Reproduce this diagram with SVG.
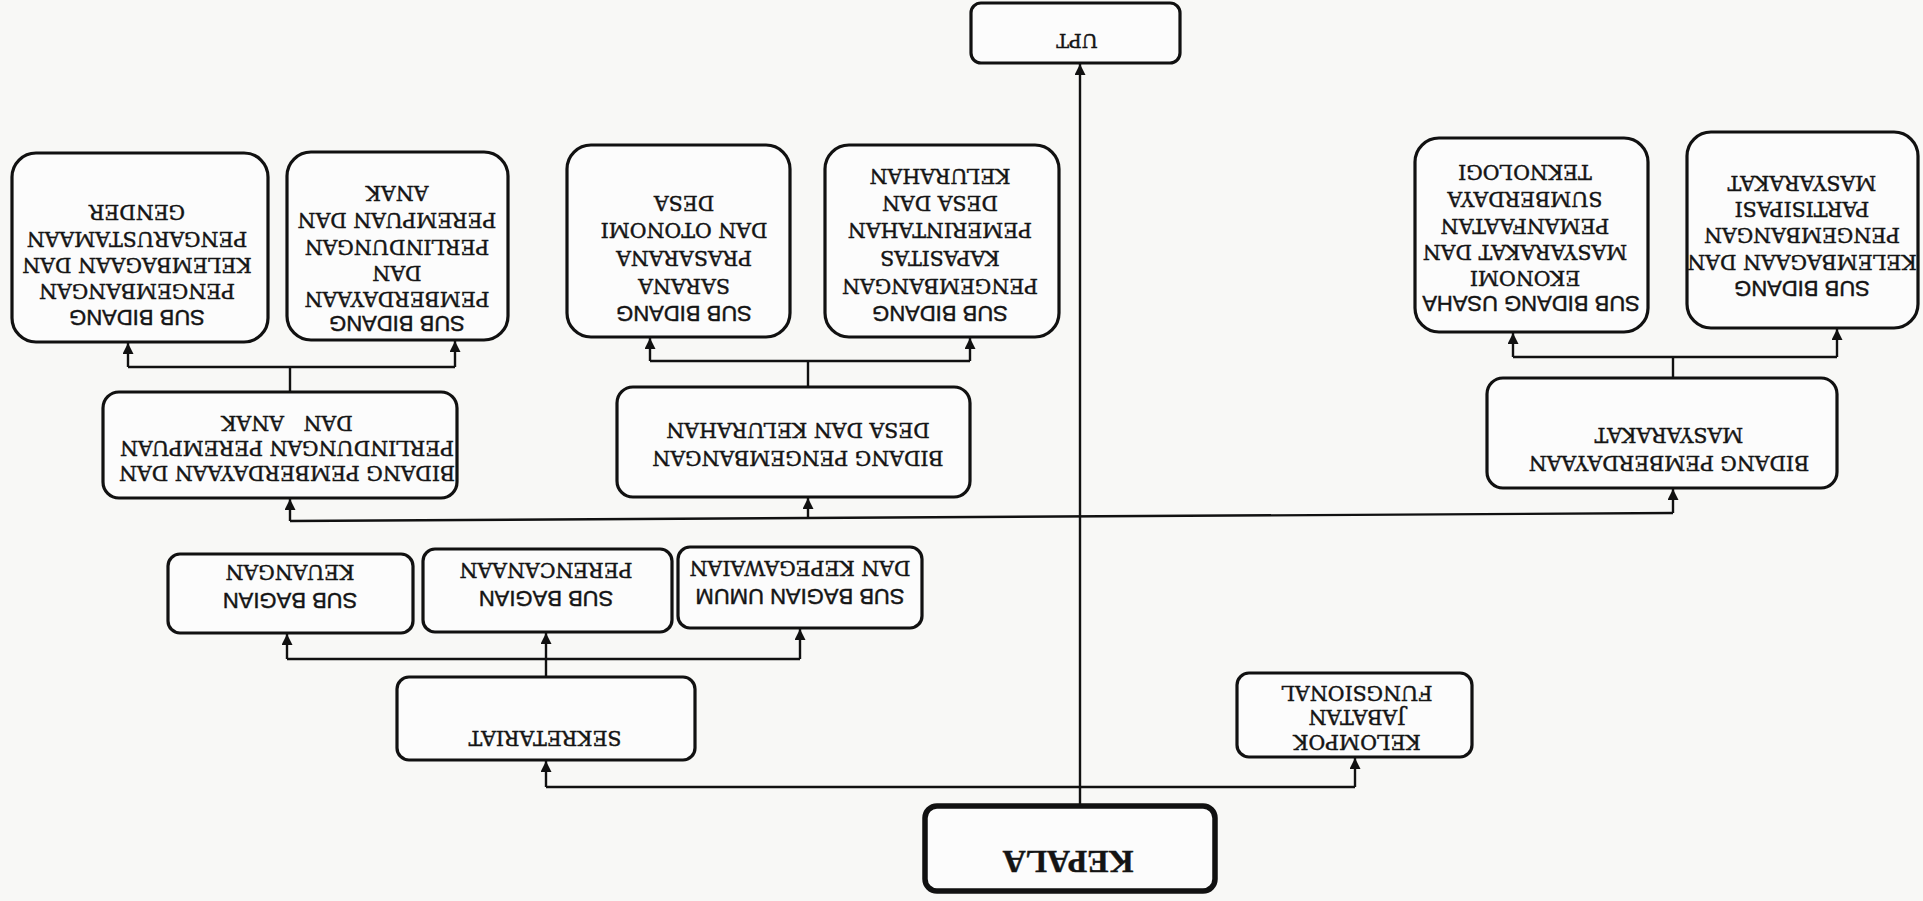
<svg xmlns="http://www.w3.org/2000/svg" width="1923" height="901" viewBox="0 0 1923 901">
<defs>
<marker id="ah" viewBox="0 0 10 10" refX="10" refY="5" markerWidth="12" markerHeight="11" markerUnits="userSpaceOnUse" orient="auto">
<path d="M0,0 L10,5 L0,10 z" fill="#111"/>
</marker>
<style>
.box{fill:#fcfcfc;stroke:#111;stroke-width:3.2}
.kb{fill:#fcfcfc;stroke:#111;stroke-width:5.5}
.c{fill:none;stroke:#111;stroke-width:2.4}
.a{fill:none;stroke:#111;stroke-width:2.4;marker-end:url(#ah)}
text{fill:#141414;stroke:#141414;stroke-width:0.45;text-anchor:middle;dominant-baseline:central}
.s{font-family:"DejaVu Serif","Liberation Serif",serif;font-size:20.5px}
.ss{font-family:"Liberation Sans",Arial,sans-serif;font-size:22px}
.k{font-family:"Liberation Serif",serif;font-size:32px;font-weight:bold}
</style>
</defs>
<rect width="1923" height="901" fill="#f8f8f6"/>

<g id="connectors">
<line class="a" x1="1080" y1="805" x2="1080" y2="64"/>
<line class="c" x1="546" y1="787" x2="1355" y2="787"/>
<line class="a" x1="546" y1="787" x2="546" y2="761"/>
<line class="a" x1="1355" y1="787" x2="1355" y2="758"/>
<line class="c" x1="546" y1="677" x2="546" y2="659"/>
<line class="c" x1="287" y1="659" x2="800" y2="659"/>
<line class="a" x1="287" y1="659" x2="287" y2="634"/>
<line class="a" x1="546" y1="659" x2="546" y2="633"/>
<line class="a" x1="800" y1="659" x2="800" y2="629"/>
<line class="c" x1="290" y1="521" x2="1673" y2="513"/>
<line class="a" x1="290" y1="521" x2="290" y2="499"/>
<line class="a" x1="808" y1="518" x2="808" y2="498"/>
<line class="a" x1="1673" y1="513" x2="1673" y2="489"/>
<line class="c" x1="290" y1="392" x2="290" y2="367"/>
<line class="c" x1="128" y1="367" x2="455" y2="367"/>
<line class="a" x1="128" y1="367" x2="128" y2="343"/>
<line class="a" x1="455" y1="367" x2="455" y2="341"/>
<line class="c" x1="808" y1="387" x2="808" y2="361"/>
<line class="c" x1="650" y1="361" x2="970" y2="361"/>
<line class="a" x1="650" y1="361" x2="650" y2="338"/>
<line class="a" x1="970" y1="361" x2="970" y2="338"/>
<line class="c" x1="1673" y1="378" x2="1673" y2="357"/>
<line class="c" x1="1513" y1="357" x2="1837" y2="357"/>
<line class="a" x1="1513" y1="357" x2="1513" y2="333"/>
<line class="a" x1="1837" y1="357" x2="1837" y2="329"/>
</g>

<g id="upt">
<rect class="box" x="971" y="3" width="209" height="60" rx="10"/>
<text class="s" style="font-size:19px" x="1077" y="41" transform="rotate(180 1077 41)">UPT</text>
</g>

<g id="kepala">
<rect class="kb" x="925" y="806" width="290" height="85" rx="12"/>
<text class="k" x="1068" y="862" transform="rotate(180 1068 862)">KEPALA</text>
</g>

<g id="sub-gender">
<rect class="box" x="12" y="153" width="256" height="189" rx="24"/>
<text class="s" x="137" y="212" transform="rotate(180 137 212)">GENDER</text>
<text class="s" x="137" y="239" transform="rotate(180 137 239)">PENGARUSTAMAAN</text>
<text class="s" x="137" y="265" transform="rotate(180 137 265)">KELEMBAGAAN DAN</text>
<text class="s" x="137" y="291" transform="rotate(180 137 291)">PENGEMBANGAN</text>
<text class="ss" x="137" y="317" transform="rotate(180 137 317)">SUB BIDANG</text>
</g>

<g id="sub-anak">
<rect class="box" x="287" y="152" width="221" height="188" rx="24"/>
<text class="s" x="397" y="193" transform="rotate(180 397 193)">ANAK</text>
<text class="s" x="397" y="220" transform="rotate(180 397 220)">PEREMPUAN DAN</text>
<text class="s" x="397" y="247" transform="rotate(180 397 247)">PERLINDUNGAN</text>
<text class="s" x="397" y="273" transform="rotate(180 397 273)">DAN</text>
<text class="s" x="397" y="299" transform="rotate(180 397 299)">PEMBERDAYAAN</text>
<text class="ss" x="397" y="323" transform="rotate(180 397 323)">SUB BIDANG</text>
</g>

<g id="sub-desa">
<rect class="box" x="567" y="145" width="223" height="192" rx="24"/>
<text class="s" x="684" y="203" transform="rotate(180 684 203)">DESA</text>
<text class="s" x="684" y="230" transform="rotate(180 684 230)">DAN OTONOMI</text>
<text class="s" x="684" y="258" transform="rotate(180 684 258)">PRASARANA</text>
<text class="s" x="684" y="286" transform="rotate(180 684 286)">SARANA</text>
<text class="ss" x="684" y="313" transform="rotate(180 684 313)">SUB BIDANG</text>
</g>

<g id="sub-kelurahan">
<rect class="box" x="825" y="145" width="234" height="192" rx="24"/>
<text class="s" x="940" y="176" transform="rotate(180 940 176)">KELURAHAN</text>
<text class="s" x="940" y="203" transform="rotate(180 940 203)">DESA DAN</text>
<text class="s" x="940" y="230" transform="rotate(180 940 230)">PEMERINTAHAN</text>
<text class="s" x="940" y="258" transform="rotate(180 940 258)">KAPASITAS</text>
<text class="s" x="940" y="286" transform="rotate(180 940 286)">PENGEMBANGAN</text>
<text class="ss" x="940" y="313" transform="rotate(180 940 313)">SUB BIDANG</text>
</g>

<g id="sub-teknologi">
<rect class="box" x="1415" y="138" width="233" height="194" rx="24"/>
<text class="s" x="1525" y="172" transform="rotate(180 1525 172)">TEKNOLOGI</text>
<text class="s" x="1525" y="199" transform="rotate(180 1525 199)">SUMBERDAYA</text>
<text class="s" x="1525" y="226" transform="rotate(180 1525 226)">PEMANFAATAN</text>
<text class="s" x="1525" y="252" transform="rotate(180 1525 252)">MASYARAKAT DAN</text>
<text class="s" x="1525" y="278" transform="rotate(180 1525 278)">EKONOMI</text>
<text class="ss" x="1531" y="303" transform="rotate(180 1531 303)">SUB BIDANG USAHA</text>
</g>

<g id="sub-masyarakat">
<rect class="box" x="1687" y="132" width="231" height="196" rx="24"/>
<text class="s" x="1802" y="183" transform="rotate(180 1802 183)">MASYARAKAT</text>
<text class="s" x="1802" y="209" transform="rotate(180 1802 209)">PARTISIPASI</text>
<text class="s" x="1802" y="235" transform="rotate(180 1802 235)">PENGEMBANGAN</text>
<text class="s" x="1802" y="262" transform="rotate(180 1802 262)">KELEMBAGAAN DAN</text>
<text class="ss" x="1802" y="288" transform="rotate(180 1802 288)">SUB BIDANG</text>
</g>

<g id="bidang-pppa">
<rect class="box" x="103" y="392" width="354" height="106" rx="16"/>
<text class="s" style="white-space:pre" x="287" y="423" transform="rotate(180 287 423)">DAN   ANAK</text>
<text class="s" x="287" y="448" transform="rotate(180 287 448)">PERLINDUNGAN PEREMPUAN</text>
<text class="s" x="287" y="473" transform="rotate(180 287 473)">BIDANG PEMBERDAYAAN DAN</text>
</g>

<g id="bidang-desa">
<rect class="box" x="617" y="387" width="353" height="110" rx="16"/>
<text class="s" x="798" y="430" transform="rotate(180 798 430)">DESA DAN KELURAHAN</text>
<text class="s" x="798" y="458" transform="rotate(180 798 458)">BIDANG PENGEMBANGAN</text>
</g>

<g id="bidang-masyarakat">
<rect class="box" x="1487" y="378" width="350" height="110" rx="16"/>
<text class="s" x="1669" y="435" transform="rotate(180 1669 435)">MASYARAKAT</text>
<text class="s" x="1669" y="463" transform="rotate(180 1669 463)">BIDANG PEMBERDAYAAN</text>
</g>

<g id="subbag-keuangan">
<rect class="box" x="168" y="554" width="245" height="79" rx="12"/>
<text class="s" x="290" y="572" transform="rotate(180 290 572)">KEUANGAN</text>
<text class="ss" x="290" y="600" transform="rotate(180 290 600)">SUB BAGIAN</text>
</g>

<g id="subbag-perencanaan">
<rect class="box" x="423" y="549" width="249" height="83" rx="12"/>
<text class="s" x="546" y="570" transform="rotate(180 546 570)">PERENCANAAN</text>
<text class="ss" x="546" y="598" transform="rotate(180 546 598)">SUB BAGIAN</text>
</g>

<g id="subbag-umum">
<rect class="box" x="678" y="547" width="244" height="81" rx="12"/>
<text class="s" x="800" y="568" transform="rotate(180 800 568)">DAN KEPEGAWAIAN</text>
<text class="ss" x="800" y="596" transform="rotate(180 800 596)">SUB BAGIAN UMUM</text>
</g>

<g id="sekretariat">
<rect class="box" x="397" y="677" width="298" height="83" rx="12"/>
<text class="s" x="545" y="738" transform="rotate(180 545 738)">SEKRETARIAT</text>
</g>

<g id="kelompok">
<rect class="box" x="1237" y="673" width="235" height="84" rx="12"/>
<text class="s" x="1357" y="693" transform="rotate(180 1357 693)">FUNGSIONAL</text>
<text class="s" x="1357" y="717" transform="rotate(180 1357 717)">JABATAN</text>
<text class="s" x="1357" y="742" transform="rotate(180 1357 742)">KELOMPOK</text>
</g>
</svg>
